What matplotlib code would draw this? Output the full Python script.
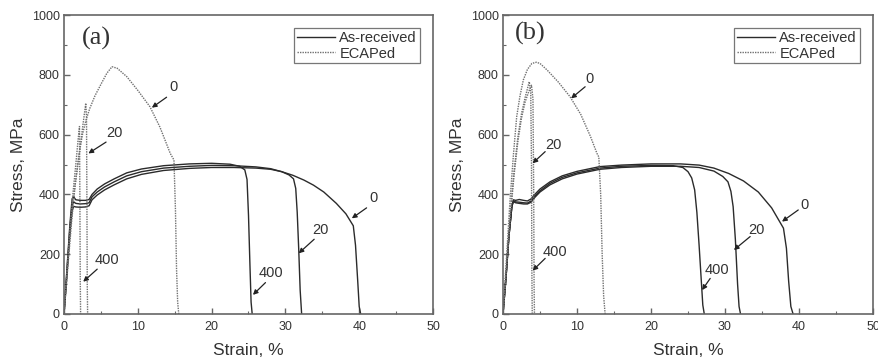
import matplotlib
matplotlib.use("Agg")
import matplotlib.pyplot as plt
from matplotlib.ticker import MultipleLocator

plt.rcParams['font.family'] = ['Liberation Sans', 'DejaVu Sans']

# ---------------- data: panel (a) ----------------
a_ar0_x = [0, 0.4, 0.8, 1.1, 1.3, 1.6, 2.2, 2.9, 3.4, 3.8, 4.5, 5.5, 6.8, 8.5, 10.5, 13.5, 17, 20, 23, 26, 28,
           29.5, 31, 32.5, 33.8, 35.2, 36.9, 38.2, 39.2, 39.5, 39.8, 40.0, 40.2]
a_ar0_y = [0, 130, 270, 345, 360, 358, 357, 358, 362, 382, 398, 415, 432, 452, 467, 480, 487, 490, 490, 488, 484,
           476, 464, 448, 431, 408, 370, 335, 295, 230, 110, 25, 0]
a_ar20_x = [0, 0.4, 0.8, 1.1, 1.3, 1.6, 2.2, 2.9, 3.4, 3.8, 4.5, 5.5, 6.8, 8.5, 10.5, 13.5, 17, 20, 23, 26, 28,
            29.5, 30.5, 31.1, 31.4, 31.6, 31.8, 32.0, 32.2]
a_ar20_y = [0, 140, 285, 365, 375, 370, 368, 369, 372, 392, 408, 425, 442, 462, 476, 488, 494, 497, 496, 492, 486,
            476, 465, 452, 420, 340, 220, 80, 0]
a_ar400_x = [0, 0.4, 0.8, 1.1, 1.3, 1.6, 2.2, 2.9, 3.4, 3.8, 4.5, 5.5, 6.8, 8.5, 10.5, 13.5, 17, 20, 22.5, 23.8,
             24.5, 24.8, 25.0, 25.2, 25.35, 25.5]
a_ar400_y = [0, 150, 300, 385, 392, 382, 380, 380, 383, 400, 418, 435, 452, 472, 485, 496, 502, 504, 501, 494,
             482, 450, 330, 160, 40, 0]
a_ec0_x = [0, 0.5, 1.0, 1.5, 2.0, 2.5, 3.0, 3.5, 4.2, 5.0, 5.8, 6.5, 7.2, 8.5, 10.0, 11.65, 13.0, 14.4, 14.9,
           15.1, 15.25, 15.4, 15.55]
a_ec0_y = [0, 150, 300, 430, 530, 600, 650, 688, 730, 768, 805, 827, 822, 794, 748, 693, 625, 537, 515,
           350, 150, 40, 0]
a_ec20_x = [0, 0.5, 1.0, 1.5, 2.0, 2.5, 2.95, 3.05, 3.1, 3.15, 3.2]
a_ec20_y = [0, 170, 320, 430, 520, 620, 705, 660, 400, 100, 0]
a_ec400_x = [0, 0.4, 0.8, 1.2, 1.6, 1.9, 2.1, 2.15, 2.2, 2.25]
a_ec400_y = [0, 150, 290, 400, 500, 580, 627, 400, 120, 0]

# ---------------- data: panel (b) ----------------
b_ar0_x = [0, 0.4, 0.8, 1.2, 1.4, 1.7, 2.2, 2.8, 3.3, 3.8, 4.3, 5.0, 6.35, 8, 10, 13.1, 16, 20, 24, 26.5, 28.5,
           30.5, 32.5, 34.5, 36.3, 37.9, 38.3, 38.6, 38.9, 39.2]
b_ar0_y = [0, 120, 260, 360, 382, 380, 383, 380, 378, 385, 400, 418, 442, 462, 477, 493, 498, 502, 502, 498, 488,
           470, 445, 408, 355, 287, 220, 110, 25, 0]
b_ar20_x = [0, 0.4, 0.8, 1.2, 1.4, 1.7, 2.2, 2.8, 3.3, 3.8, 4.3, 5.0, 6.35, 8, 10, 13.1, 16, 20, 24, 26.5, 28.5,
            29.7, 30.4, 30.8, 31.1, 31.4, 31.7, 31.9, 32.1]
b_ar20_y = [0, 120, 260, 360, 376, 372, 370, 368, 368, 374, 390, 408, 432, 452, 468, 484, 490, 494, 494, 490, 478,
            460, 442, 410, 359, 250, 100, 25, 0]
b_ar400_x = [0, 0.4, 0.8, 1.2, 1.4, 1.7, 2.2, 2.8, 3.3, 3.8, 4.3, 5.0, 6.35, 8, 10, 13.1, 16, 20, 23, 24.3,
             25.0, 25.5, 25.9, 26.2, 26.5, 26.8, 27.0, 27.2]
b_ar400_y = [0, 120, 260, 360, 378, 375, 374, 372, 371, 378, 394, 412, 437, 457, 472, 488, 494, 497, 496, 490,
             476, 455, 415, 340, 230, 110, 30, 0]
b_ec0_x = [0, 0.5, 0.95, 1.4, 1.85, 2.3, 2.75, 3.3, 3.9, 4.5, 5.0, 6.0, 7.5, 9.05, 10.5, 11.8, 12.7, 12.95,
           13.2, 13.4, 13.6, 13.8]
b_ec0_y = [0, 200, 381, 530, 660, 730, 783, 818, 838, 842, 838, 815, 775, 727, 668, 595, 537, 525,
           400, 200, 60, 0]
b_ec20_x = [0, 0.5, 1.0, 1.5, 2.0, 2.5, 3.0, 3.55, 3.75, 3.85, 3.9, 3.95]
b_ec20_y = [0, 170, 345, 480, 590, 670, 725, 777, 740, 500, 150, 0]
b_ec400_x = [0, 0.5, 1.0, 1.5, 2.0, 2.5, 3.0, 3.5, 3.85, 4.05, 4.15, 4.2, 4.25]
b_ec400_y = [0, 160, 330, 465, 575, 655, 710, 745, 765, 720, 400, 100, 0]

legend_labels = ["As-received", "ECAPed"]
panel_labels = ["(a)", "(b)"]
x_ticks = [0, 10, 20, 30, 40, 50]
y_ticks = [0, 200, 400, 600, 800, 1000]

# annotations: (label, text position, arrow tail, arrow tip)
a_notes = [("0", (14.8, 760), (13.9, 725), (11.9, 690)),
           ("20", (6.9, 605), (5.7, 575), (3.3, 537)),
           ("400", (5.8, 180), (4.5, 150), (2.6, 108)),
           ("0", (41.9, 387), (41.0, 355), (39.0, 320)),
           ("20", (34.7, 281), (33.9, 250), (31.8, 203)),
           ("400", (28.1, 136), (27.3, 105), (25.6, 64))]
b_notes = [("0", (11.75, 785), (11.1, 760), (9.2, 721)),
           ("20", (6.8, 565), (5.7, 543), (4.0, 504)),
           ("400", (7.0, 208), (5.7, 186), (4.0, 145)),
           ("0", (40.8, 365), (39.9, 348), (37.7, 309)),
           ("20", (34.3, 281), (33.4, 259), (31.2, 214)),
           ("400", (28.9, 147), (28.0, 119), (26.9, 80))]

AR_COLOR = "#2b2b2b"
EC_COLOR = "#707070"
TXT = "#333333"
SPINE = "#666666"

fig = plt.figure(figsize=(8.79, 3.63), dpi=100)
ax_a = fig.add_axes([64 / 879, 1 - 314 / 363, 369 / 879, 299 / 363])
ax_b = fig.add_axes([503 / 879, 1 - 314 / 363, 370 / 879, 299 / 363])

panels = [
    (ax_a, [(a_ar0_x, a_ar0_y), (a_ar20_x, a_ar20_y), (a_ar400_x, a_ar400_y)],
     [(a_ec0_x, a_ec0_y), (a_ec20_x, a_ec20_y), (a_ec400_x, a_ec400_y)], a_notes, panel_labels[0], (4.4, 922)),
    (ax_b, [(b_ar0_x, b_ar0_y), (b_ar20_x, b_ar20_y), (b_ar400_x, b_ar400_y)],
     [(b_ec0_x, b_ec0_y), (b_ec20_x, b_ec20_y), (b_ec400_x, b_ec400_y)], b_notes, panel_labels[1], (3.65, 939)),
]

for ax, ars, ecs, notes, plab, ppos in panels:
    for i, (x, y) in enumerate(ars):
        ax.plot(x, y, color=AR_COLOR, lw=1.0, solid_joinstyle='round',
                label=legend_labels[0] if i == 0 else None)
    for i, (x, y) in enumerate(ecs):
        ax.plot(x, y, color=EC_COLOR, lw=1.0, linestyle=(0, (1, 0.8)),
                label=legend_labels[1] if i == 0 else None)
    for lab, tpos, tail, tip in notes:
        ax.annotate("", xy=tip, xytext=tail,
                    arrowprops=dict(arrowstyle='-|>', color="#222222", lw=0.9,
                                    mutation_scale=7, shrinkA=0, shrinkB=0))
        ax.text(tpos[0], tpos[1], lab, fontsize=10.5, color=TXT, ha='center', va='center')
    ax.text(ppos[0], ppos[1], plab, fontsize=19, color=TXT, ha='center', va='center',
            family=['Liberation Serif', 'DejaVu Serif'])

    ax.set_xlim(0, 50)
    ax.set_ylim(0, 1000)
    ax.set_xticks(x_ticks)
    ax.set_yticks(y_ticks)
    ax.xaxis.set_minor_locator(MultipleLocator(5))
    ax.yaxis.set_minor_locator(MultipleLocator(100))
    ax.tick_params(which='both', direction='in', colors=SPINE, labelcolor=TXT, labelsize=9,
                   top=False, right=False)
    ax.tick_params(which='major', length=4, width=1)
    ax.tick_params(which='minor', length=2.5, width=0.8)
    ax.tick_params(axis='x', pad=5)
    ax.tick_params(axis='y', pad=3)
    for sp in ax.spines.values():
        sp.set_color(SPINE)
        sp.set_linewidth(1.2)
    ax.set_xlabel("Strain, %", fontsize=12.5, color=TXT, labelpad=7)
    ax.set_ylabel("Stress, MPa", fontsize=12.5, color=TXT, labelpad=4)
    leg = ax.legend(loc='upper right', fontsize=10.5, frameon=True, fancybox=False,
                    edgecolor="#555555", handlelength=2.6, handletextpad=0.3,
                    borderpad=0.2, labelspacing=0.1, borderaxespad=0.9)
    leg.get_frame().set_linewidth(0.9)
    for t in leg.get_texts():
        t.set_color(TXT)

fig.savefig("out.png", dpi=100)
